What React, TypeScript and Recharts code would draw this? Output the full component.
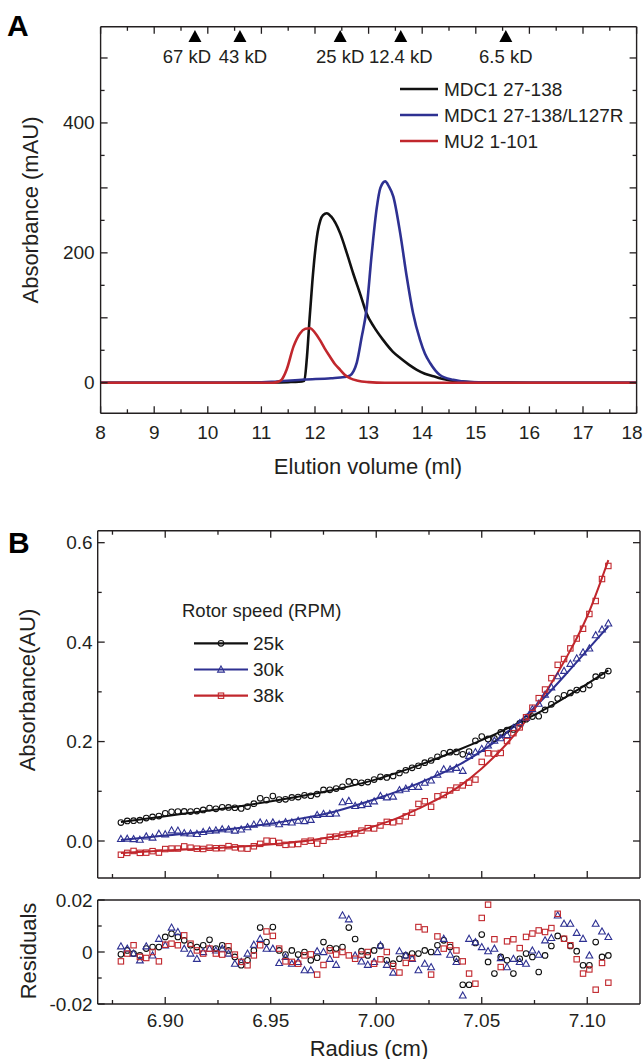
import React from "react";
import { ComposedChart, Line, Scatter, XAxis, YAxis } from "recharts";

const FONT = "'Liberation Sans', Arial, Helvetica, sans-serif";
const INK = "#231f20";
const BLACK = "#111111";
const BLUE = "#2e3192";
const RED = "#c1272d";

// ---- panel A: gel filtration (elution volume, ml -> absorbance, mAU)
const mdc1Volume = [8, 10, 11, 11.5, 11.7, 11.8, 11.85, 11.9, 11.95, 12.0, 12.05, 12.1, 12.15, 12.22, 12.3, 12.47, 12.6, 12.71, 12.85, 12.96, 13.1, 13.27, 13.45, 13.59, 13.75, 13.9, 14.05, 14.21, 14.35, 14.52, 14.8, 15.2, 16, 18];
const mdc1Abs = [0, 0, 0.5, 1, 1.5, 3, 40, 100, 155, 200, 232, 250, 258, 261, 256, 230, 198, 169, 135, 107, 86, 66, 48, 38, 28, 20, 14, 10, 6.5, 3.5, 1.5, 0.5, 0, 0];

const l127rVolume = [8, 10.8, 11.3, 11.8, 12.3, 12.55, 12.65, 12.72, 12.78, 12.87, 12.96, 13.06, 13.15, 13.22, 13.31, 13.38, 13.46, 13.59, 13.71, 13.83, 13.96, 14.05, 14.15, 14.33, 14.58, 14.9, 15.5, 18];
const l127rAbs = [0, 0, 2, 5, 7, 9, 11, 18, 31, 70, 112, 200, 268, 300, 310, 302, 287, 230, 164, 107, 66, 45, 30, 12, 4.5, 1, 0, 0];

const mu2Volume = [8, 11.2, 11.29, 11.38, 11.47, 11.6, 11.72, 11.82, 11.91, 12.0, 12.09, 12.18, 12.28, 12.37, 12.47, 12.56, 12.65, 12.8, 13.0, 13.3, 18];
const mu2Abs = [0, 0, 1, 5, 20, 56, 76, 83, 84, 77, 66, 53, 40, 29, 20, 12, 7, 3, 1, 0, 0];

const standardVolume = [9.76, 10.6, 12.47, 13.6, 15.56];
const standardLabels = ["67 kD", "43 kD", "25 kD", "12.4 kD", "6.5 kD"];

const elutionTicks = [8, 8.5, 9, 9.5, 10, 10.5, 11, 11.5, 12, 12.5, 13, 13.5, 14, 14.5, 15, 15.5, 16, 16.5, 17, 17.5, 18];
const elutionLabels = [8, 9, 10, 11, 12, 13, 14, 15, 16, 17, 18];
const mauTicks = [0, 50, 100, 150, 200, 250, 300, 350, 400, 450, 500];
const mauMajor = [0, 100, 200, 300, 400, 500];
const mauLabels = [0, 200, 400];

// ---- panel B: sedimentation equilibrium (radius, cm)
const radius = [
  6.879, 6.882, 6.885, 6.888, 6.891, 6.894, 6.897, 6.900, 6.903, 6.906,
  6.909, 6.912, 6.915, 6.918, 6.921, 6.924, 6.927, 6.930, 6.933, 6.936,
  6.939, 6.942, 6.945, 6.948, 6.951, 6.954, 6.957, 6.960, 6.963, 6.966,
  6.969, 6.972, 6.975, 6.978, 6.981, 6.984, 6.987, 6.990, 6.993, 6.996,
  6.999, 7.002, 7.005, 7.008, 7.011, 7.014, 7.017, 7.020, 7.023, 7.026,
  7.029, 7.032, 7.035, 7.038, 7.041, 7.044, 7.047, 7.050, 7.053, 7.056,
  7.059, 7.062, 7.065, 7.068, 7.071, 7.074, 7.077, 7.080, 7.083, 7.086,
  7.089, 7.092, 7.095, 7.098, 7.101, 7.104, 7.107, 7.110,
];

const obs25k = [
  0.0371, 0.0403, 0.0408, 0.0418, 0.0462, 0.0485, 0.0502, 0.0558, 0.0587, 0.0591,
  0.0595, 0.0592, 0.0602, 0.0625, 0.0663, 0.0647, 0.0678, 0.0676, 0.0669, 0.0655,
  0.0692, 0.0750, 0.0859, 0.0824, 0.0903, 0.0834, 0.0839, 0.0876, 0.0884, 0.0918,
  0.0910, 0.0944, 0.1028, 0.1029, 0.1054, 0.1091, 0.1198, 0.1185, 0.1170, 0.1185,
  0.1236, 0.1291, 0.1278, 0.1307, 0.1368, 0.1423, 0.1472, 0.1514, 0.1576, 0.1619,
  0.1695, 0.1763, 0.1787, 0.1791, 0.1743, 0.1798, 0.2015, 0.2102, 0.2053, 0.2063,
  0.2183, 0.2231, 0.2245, 0.2366, 0.2451, 0.2502, 0.2509, 0.2637, 0.2750, 0.2865,
  0.2931, 0.2979, 0.3036, 0.3058, 0.3136, 0.3306, 0.3330, 0.3417,
];
const obs30k = [
  0.0042, 0.0046, 0.0040, 0.0027, 0.0093, 0.0071, 0.0148, 0.0136, 0.0216, 0.0211,
  0.0159, 0.0152, 0.0144, 0.0182, 0.0208, 0.0216, 0.0238, 0.0234, 0.0210, 0.0232,
  0.0279, 0.0331, 0.0374, 0.0355, 0.0375, 0.0339, 0.0382, 0.0375, 0.0408, 0.0401,
  0.0427, 0.0525, 0.0548, 0.0547, 0.0554, 0.0783, 0.0807, 0.0707, 0.0723, 0.0749,
  0.0799, 0.0907, 0.0879, 0.0895, 0.1024, 0.1054, 0.1088, 0.1090, 0.1174, 0.1219,
  0.1336, 0.1445, 0.1443, 0.1473, 0.1412, 0.1715, 0.1788, 0.1854, 0.1924, 0.2019,
  0.2069, 0.2134, 0.2274, 0.2370, 0.2477, 0.2654, 0.2764, 0.2945, 0.3092, 0.3317,
  0.3423, 0.3565, 0.3674, 0.3795, 0.3875, 0.4141, 0.4255, 0.4378,
];
const obs38k = [
  -0.0276, -0.0239, -0.0200, -0.0238, -0.0234, -0.0204, -0.0233, -0.0162, -0.0152, -0.0152,
  -0.0108, -0.0134, -0.0154, -0.0160, -0.0135, -0.0146, -0.0143, -0.0103, -0.0128, -0.0148,
  -0.0154, -0.0106, -0.0057, 0.0007, 0.0000, -0.0038, -0.0077, -0.0068, -0.0060, -0.0013,
  0.0006, -0.0053, 0.0005, 0.0082, 0.0089, 0.0126, 0.0140, 0.0154, 0.0209, 0.0258,
  0.0252, 0.0312, 0.0385, 0.0376, 0.0400, 0.0494, 0.0570, 0.0746, 0.0800, 0.0689,
  0.0899, 0.0925, 0.1016, 0.1074, 0.1118, 0.1173, 0.1236, 0.1591, 0.1765, 0.1755,
  0.1771, 0.2011, 0.2169, 0.2285, 0.2488, 0.2681, 0.2873, 0.3047, 0.3275, 0.3543,
  0.3660, 0.3874, 0.4072, 0.4269, 0.4566, 0.4827, 0.5269, 0.5532,
];

const res25k = [
  -0.0009, 0.0006, -0.0006, -0.0013, 0.0013, 0.0019, 0.0019, 0.0058, 0.0070, 0.0058,
  0.0045, 0.0026, 0.0019, 0.0026, 0.0047, 0.0013, 0.0026, 0.0006, -0.0019, -0.0051,
  -0.0032, 0.0006, 0.0094, 0.0038, 0.0096, 0.0006, -0.0010, 0.0006, -0.0010, 0.0000,
  -0.0032, -0.0022, 0.0038, 0.0015, 0.0013, 0.0019, 0.0094, 0.0050, 0.0003, -0.0013,
  0.0006, 0.0023, -0.0032, -0.0045, -0.0026, -0.0013, -0.0006, -0.0006, 0.0006, 0.0000,
  0.0026, 0.0045, 0.0019, -0.0026, -0.0126, -0.0126, 0.0035, 0.0067, -0.0038, -0.0083,
  -0.0019, -0.0032, -0.0083, -0.0026, -0.0006, -0.0019, -0.0077, -0.0013, 0.0023, 0.0062,
  0.0051, 0.0023, 0.0003, -0.0051, -0.0051, 0.0038, -0.0019, -0.0013,
];
const res30k = [
  0.0022, 0.0013, -0.0006, -0.0032, 0.0022, -0.0013, 0.0051, 0.0026, 0.0094, 0.0077,
  0.0013, -0.0006, -0.0026, 0.0000, 0.0013, 0.0006, 0.0013, -0.0006, -0.0045, -0.0038,
  -0.0006, 0.0028, 0.0051, 0.0013, 0.0013, -0.0042, -0.0019, -0.0045, -0.0038, -0.0070,
  -0.0070, 0.0003, 0.0000, -0.0026, -0.0049, 0.0141, 0.0126, -0.0013, -0.0036, -0.0049,
  -0.0038, 0.0026, -0.0049, -0.0079, 0.0003, -0.0013, -0.0026, -0.0070, -0.0045, -0.0058,
  0.0000, 0.0051, -0.0010, -0.0038, -0.0167, 0.0051, 0.0038, 0.0019, 0.0003, 0.0013,
  -0.0023, -0.0058, -0.0026, -0.0038, -0.0045, 0.0006, -0.0010, 0.0045, 0.0054, 0.0141,
  0.0109, 0.0109, 0.0074, 0.0051, -0.0013, 0.0109, 0.0079, 0.0058,
];
const res38k = [
  -0.0036, -0.0006, 0.0026, -0.0019, -0.0023, 0.0000, -0.0036, 0.0028, 0.0032, 0.0026,
  0.0064, 0.0032, 0.0006, -0.0006, 0.0013, -0.0006, -0.0010, 0.0022, -0.0010, -0.0038,
  -0.0051, -0.0013, 0.0026, 0.0079, 0.0062, 0.0013, -0.0036, -0.0038, -0.0045, -0.0013,
  -0.0009, -0.0087, -0.0050, 0.0006, -0.0010, 0.0000, -0.0013, -0.0026, -0.0010, 0.0000,
  -0.0045, -0.0028, 0.0000, -0.0054, -0.0079, -0.0042, -0.0023, 0.0096, 0.0087, -0.0087,
  0.0060, 0.0013, 0.0026, 0.0006, -0.0036, -0.0083, -0.0122, 0.0131, 0.0182, 0.0049,
  -0.0058, 0.0041, 0.0049, 0.0015, 0.0058, 0.0071, 0.0083, 0.0077, 0.0092, 0.0147,
  0.0051, 0.0026, -0.0028, -0.0083, -0.0067, -0.0145, -0.0042, -0.0118,
];

// fitted curves, read at a handful of radii
const fit25kRadius = [6.879, 6.9, 6.92, 6.94, 6.96, 6.98, 7.0, 7.02, 7.04, 7.06, 7.08, 7.1, 7.11];
const fit25k = [0.038, 0.05, 0.061, 0.073, 0.087, 0.103, 0.124, 0.152, 0.185, 0.222, 0.265, 0.316, 0.343];
const fit30kRadius = [6.879, 6.9, 6.92, 6.94, 6.96, 6.98, 7.0, 7.02, 7.04, 7.06, 7.07, 7.08, 7.09, 7.1, 7.11];
const fit30k = [0.002, 0.011, 0.019, 0.029, 0.042, 0.059, 0.085, 0.116, 0.155, 0.212, 0.248, 0.29, 0.336, 0.384, 0.432];
const fit38kRadius = [6.879, 6.9, 6.92, 6.94, 6.96, 6.97, 6.98, 6.99, 7.0, 7.01, 7.02, 7.03, 7.04, 7.05, 7.06, 7.07, 7.08, 7.09, 7.1, 7.11];
const fit38k = [-0.024, -0.019, -0.015, -0.01, -0.003, 0.002, 0.009, 0.018, 0.031, 0.046, 0.065, 0.086, 0.112, 0.146, 0.187, 0.237, 0.297, 0.368, 0.452, 0.565];

const radiusTicks = [6.875, 6.9, 6.925, 6.95, 6.975, 7.0, 7.025, 7.05, 7.075, 7.1];
const radiusLabels = [6.9, 6.95, 7.0, 7.05, 7.1];
const absTicks = [0, 0.1, 0.2, 0.3, 0.4, 0.5, 0.6];
const absLabels = [0, 0.2, 0.4, 0.6];
const residualTicks = [-0.02, -0.01, 0, 0.01, 0.02];
const residualLabels = [-0.02, 0, 0.02];

const toPoints = (xs: number[], ys: number[]) => xs.map((x, i) => ({ x, y: ys[i] }));
const hasValue = (list: number[], v: number) => list.some((k) => Math.abs(k - v) < 1e-9);

// Tick marks point into the plot; longer marks at the major values.
// With tickSize 0 and tickMargin 0, Recharts hands us the axis-line position.
type Side = "bottom" | "top" | "left" | "right";
function makeTick(side: Side, major: number[], labels: number[] = [], fmt: (v: number) => string = String, gap = 0) {
  return (props: any) => {
    const { x, y, payload } = props;
    const v = payload.value as number;
    const len = hasValue(major, v) ? 7 : 4;
    const text = hasValue(labels, v) ? fmt(v) : "";
    const ink = { stroke: INK, strokeWidth: 1.3 };
    if (side === "bottom" || side === "top") {
      const dir = side === "bottom" ? -1 : 1;
      const cx = Math.min(x, 632);
      return (
        <g>
          <line x1={x} x2={x} y1={y} y2={y + dir * len} {...ink} />
          {text && (
            <text x={cx} y={y + gap} textAnchor="middle" dominantBaseline="central" fontSize={19} fontFamily={FONT} fill={INK}>{text}</text>
          )}
        </g>
      );
    }
    const dir = side === "left" ? 1 : -1;
    return (
      <g>
        <line x1={x} x2={x + dir * len} y1={y} y2={y} {...ink} />
        {text && (
          <text x={x - gap} y={y} textAnchor="end" dominantBaseline="central" fontSize={19} fontFamily={FONT} fill={INK}>{text}</text>
        )}
      </g>
    );
  };
}

const frame = { stroke: INK, strokeWidth: 1.4 };
const bare = { tickSize: 0, tickMargin: 0, tickLine: false, interval: 0 as const, allowDataOverflow: true, axisLine: frame };

// ---- markers
const CircleMark = ({ cx, cy, color }: any) => (
  <circle cx={cx} cy={cy} r={2.8} fill="none" stroke={color} strokeWidth={1.1} />
);
const TriangleMark = ({ cx, cy, color }: any) => (
  <path d={`M${cx},${cy - 3.5} L${cx + 3.4},${cy + 2.6} L${cx - 3.4},${cy + 2.6} Z`} fill="none" stroke={color} strokeWidth={1.1} />
);
const SquareMark = ({ cx, cy, color }: any) => (
  <rect x={cx - 2.7} y={cy - 2.7} width={5.4} height={5.4} fill="none" stroke={color} strokeWidth={1.1} />
);

// the first two standards sit close together, so the first label is nudged left
const standardLabelShift: Record<string, number> = { "67 kD": -8, "43 kD": 3 };

const StandardMark = (props: any) => {
  const { cx, cy, payload } = props;
  return (
    <g>
      <path d={`M${cx},${cy - 6.5} L${cx + 6.5},${cy + 5.5} L${cx - 6.5},${cy + 5.5} Z`} fill="#000" />
      <text x={cx + (standardLabelShift[payload.label] || 0)} y={cy + 19.5} textAnchor="middle" dominantBaseline="central"
        fontSize={18.5} fontFamily={FONT} fill={INK}>
        {payload.label}
      </text>
    </g>
  );
};

const chromSeries = [
  { name: "MDC1 27-138", color: BLACK, data: toPoints(mdc1Volume, mdc1Abs) },
  { name: "MDC1 27-138/L127R", color: BLUE, data: toPoints(l127rVolume, l127rAbs) },
  { name: "MU2 1-101", color: RED, data: toPoints(mu2Volume, mu2Abs) },
];

const rotorSeries = [
  { name: "25k", color: BLACK, Mark: CircleMark, obs: toPoints(radius, obs25k), res: toPoints(radius, res25k), fit: toPoints(fit25kRadius, fit25k) },
  { name: "30k", color: BLUE, Mark: TriangleMark, obs: toPoints(radius, obs30k), res: toPoints(radius, res30k), fit: toPoints(fit30kRadius, fit30k) },
  { name: "38k", color: RED, Mark: SquareMark, obs: toPoints(radius, obs38k), res: toPoints(radius, res38k), fit: toPoints(fit38kRadius, fit38k) },
];

const STANDARD_LEVEL = 533;
const standards = standardVolume.map((x, i) => ({ x, y: STANDARD_LEVEL, label: standardLabels[i] }));

const R_DOMAIN: [number, number] = [6.868, 7.125];
const MAU_DOMAIN: [number, number] = [-47, 548];
const ABS_DOMAIN: [number, number] = [-0.0744, 0.6241];

function PanelA() {
  return (
    <ComposedChart width={643} height={480} margin={{ top: 25.8, right: 5.4, bottom: 36.7, left: 40.6 }}>
      <XAxis xAxisId="b" dataKey="x" type="number" domain={[8, 18]} ticks={elutionTicks} height={30} {...bare}
        tick={makeTick("bottom", elutionLabels, elutionLabels, String, 19.4)} />
      <XAxis xAxisId="t" orientation="top" dataKey="x" type="number" domain={[8, 18]} ticks={elutionTicks} height={1} {...bare}
        tick={makeTick("top", elutionLabels)} />
      <YAxis yAxisId="l" type="number" domain={MAU_DOMAIN} ticks={mauTicks} width={60} {...bare}
        tick={makeTick("left", mauMajor, mauLabels, String, 6)} />
      <YAxis yAxisId="r" orientation="right" type="number" domain={MAU_DOMAIN} ticks={mauTicks} width={1} {...bare}
        tick={makeTick("right", mauMajor)} />
      {chromSeries.map((s) => (
        <Line key={s.name} xAxisId="b" yAxisId="l" data={s.data} dataKey="y" type="monotone" stroke={s.color}
          strokeWidth={2.6} dot={false} activeDot={false} isAnimationActive={false} />
      ))}
      <Scatter xAxisId="b" yAxisId="l" data={standards} dataKey="y" shape={StandardMark} isAnimationActive={false} />
    </ComposedChart>
  );
}

function PanelB() {
  return (
    <ComposedChart width={643} height={390} margin={{ top: 29.7, right: 2, bottom: 11, left: 37.7 }}>
      <XAxis xAxisId="b" dataKey="x" type="number" domain={R_DOMAIN} ticks={radiusTicks} height={1} {...bare}
        tick={makeTick("bottom", radiusLabels)} />
      <XAxis xAxisId="t" orientation="top" dataKey="x" type="number" domain={R_DOMAIN} ticks={radiusTicks} height={1} {...bare}
        tick={makeTick("top", radiusLabels)} />
      <YAxis yAxisId="l" type="number" domain={ABS_DOMAIN} ticks={absTicks} width={60} {...bare}
        tick={makeTick("left", absLabels, absLabels, (v) => v.toFixed(1), 5)} />
      <YAxis yAxisId="r" orientation="right" type="number" domain={ABS_DOMAIN} ticks={absTicks} width={1} {...bare}
        tick={makeTick("right", absLabels)} />
      {rotorSeries.map((s) => (
        <Scatter key={"o" + s.name} xAxisId="b" yAxisId="l" data={s.obs} dataKey="y"
          shape={(p: any) => <s.Mark cx={p.cx} cy={p.cy} color={s.color} />} isAnimationActive={false} />
      ))}
      {rotorSeries.map((s) => (
        <Line key={"f" + s.name} xAxisId="b" yAxisId="l" data={s.fit} dataKey="y" type="monotone" stroke={s.color}
          strokeWidth={2} dot={false} activeDot={false} isAnimationActive={false} />
      ))}
    </ComposedChart>
  );
}

function PanelResiduals() {
  return (
    <ComposedChart width={643} height={169} margin={{ top: 9, right: 2, bottom: 25, left: 37.7 }}>
      <XAxis xAxisId="b" dataKey="x" type="number" domain={R_DOMAIN} ticks={radiusTicks} height={30} {...bare}
        tick={makeTick("bottom", radiusLabels, radiusLabels, (v) => v.toFixed(2), 16)} />
      <XAxis xAxisId="t" orientation="top" dataKey="x" type="number" domain={R_DOMAIN} ticks={radiusTicks} height={1} {...bare}
        tick={false} />
      <YAxis yAxisId="l" type="number" domain={[-0.02, 0.02]} ticks={residualTicks} width={60} {...bare}
        tick={makeTick("left", residualLabels, residualLabels, (v) => (v === 0 ? "0" : v.toFixed(2)), 5)} />
      <YAxis yAxisId="r" orientation="right" type="number" domain={[-0.02, 0.02]} ticks={residualTicks} width={1} {...bare}
        tick={false} />
      {rotorSeries.map((s) => (
        <Scatter key={"r" + s.name} xAxisId="b" yAxisId="l" data={s.res} dataKey="y"
          shape={(p: any) => <s.Mark cx={p.cx} cy={p.cy} color={s.color} />} isAnimationActive={false} />
      ))}
    </ComposedChart>
  );
}

function Overlay() {
  const title = { fontSize: 22, fontFamily: FONT, fill: INK };
  return (
    <svg width={643} height={1059} style={{ position: "absolute", left: 0, top: 0, pointerEvents: "none" }}>
      <text x={7} y={36} fontSize={30} fontWeight="bold" fontFamily={FONT} fill="#000">A</text>
      <text x={8} y={553} fontSize={30} fontWeight="bold" fontFamily={FONT} fill="#000">B</text>

      <text transform="translate(30,210) rotate(-90)" textAnchor="middle" dominantBaseline="central" {...title}>Absorbance (mAU)</text>
      <text x={368} y={466} textAnchor="middle" dominantBaseline="central" {...title}>Elution volume (ml)</text>
      <text transform="translate(27,690) rotate(-90)" textAnchor="middle" dominantBaseline="central" {...title}>Absorbance(AU)</text>
      <text transform="translate(28,951) rotate(-90)" textAnchor="middle" dominantBaseline="central" {...title}>Residuals</text>
      <text x={369} y={1048} textAnchor="middle" dominantBaseline="central" {...title}>Radius (cm)</text>

      {chromSeries.map((s, i) => {
        const y = 89 + i * 26;
        return (
          <g key={s.name}>
            <line x1={400} x2={438} y1={y} y2={y} stroke={s.color} strokeWidth={2.6} />
            <text x={444} y={y} dominantBaseline="central" fontSize={19} fontFamily={FONT} fill={INK}>{s.name}</text>
          </g>
        );
      })}

      <text x={182} y={610} dominantBaseline="central" fontSize={18.5} fontFamily={FONT} fill={INK}>Rotor speed (RPM)</text>
      {rotorSeries.map((s, i) => {
        const y = 643.3 + i * 26.2;
        return (
          <g key={s.name}>
            <line x1={194} x2={248} y1={y} y2={y} stroke={s.color} strokeWidth={2.2} />
            <s.Mark cx={221} cy={y} color={s.color} />
            <text x={253} y={y} dominantBaseline="central" fontSize={19} fontFamily={FONT} fill={INK}>{s.name}</text>
          </g>
        );
      })}
    </svg>
  );
}

export default function App() {
  return (
    <div style={{ position: "absolute", left: 0, top: 0, width: 643, height: 1059, background: "#fff" }}>
      <div style={{ position: "absolute", left: 0, top: 0 }}>
        <PanelA />
      </div>
      <div style={{ position: "absolute", left: 0, top: 500 }}>
        <PanelB />
      </div>
      <div style={{ position: "absolute", left: 0, top: 890 }}>
        <PanelResiduals />
      </div>
      <Overlay />
    </div>
  );
}
